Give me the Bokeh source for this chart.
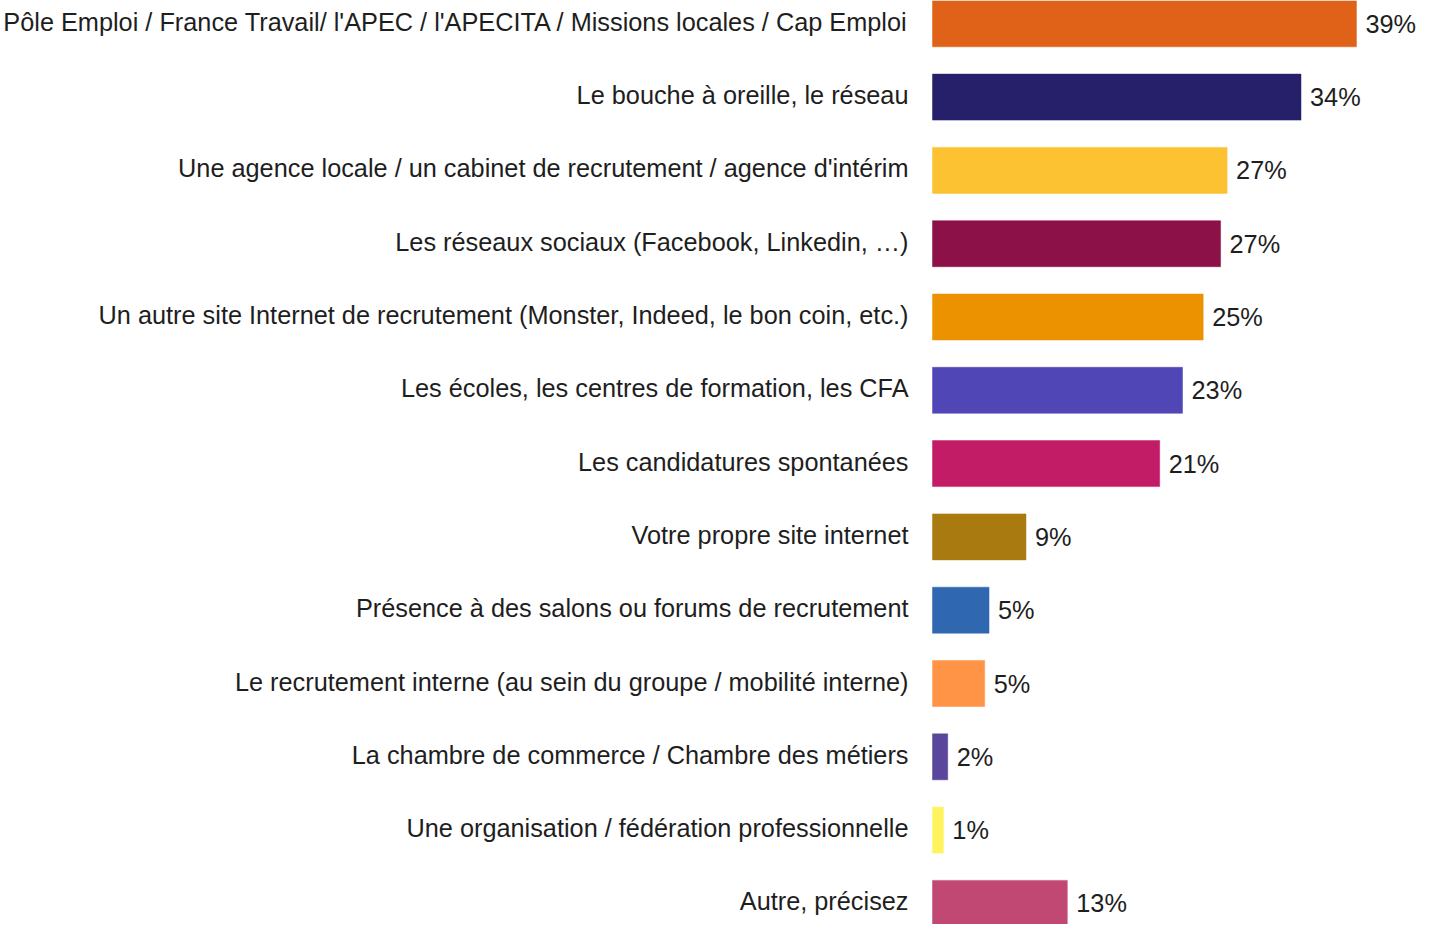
from bokeh.plotting import figure
from bokeh.models import ColumnDataSource, Range1d
from bokeh.core.properties import value
from bokeh.embed import file_html
from bokeh.resources import INLINE

categories = [
    "Pôle Emploi / France Travail/ l'APEC / l'APECITA / Missions locales / Cap Emploi",
    "Le bouche à oreille, le réseau",
    "Une agence locale / un cabinet de recrutement / agence d'intérim",
    "Les réseaux sociaux (Facebook, Linkedin, …)",
    "Un autre site Internet de recrutement (Monster, Indeed, le bon coin, etc.)",
    "Les écoles, les centres de formation, les CFA",
    "Les candidatures spontanées",
    "Votre propre site internet",
    "Présence à des salons ou forums de recrutement",
    "Le recrutement interne (au sein du groupe / mobilité interne)",
    "La chambre de commerce / Chambre des métiers",
    "Une organisation / fédération professionnelle",
    "Autre, précisez",
]
values = [39.0, 33.9, 27.1, 26.5, 24.9, 23.0, 20.9, 8.6, 5.2, 4.8, 1.4, 1.0, 12.4]
value_labels = ["39%", "34%", "27%", "27%", "25%", "23%", "21%", "9%", "5%", "5%", "2%", "1%", "13%"]
colors = ["#DF6218", "#261F6A", "#FDC232", "#8B1148", "#EC9200", "#5146B6", "#C31C67",
          "#A97A0F", "#2F68B1", "#FF9447", "#5A469B", "#FFF45E", "#C04872"]

W, H = 1416, 924
PX_PER_PCT = 10.87
ZERO_PX = 932
ROW_PX = 73.3
TOP = -23.3 / ROW_PX

src = ColumnDataSource(dict(
    y=list(range(len(categories))),
    cat=categories,
    val=values,
    lab=value_labels,
    col=colors,
))

p = figure(width=W, height=H, output_backend="svg", toolbar_location=None,
           x_range=Range1d(-ZERO_PX / PX_PER_PCT, (W - ZERO_PX) / PX_PER_PCT),
           y_range=Range1d(TOP + H / ROW_PX, TOP),
           min_border=0)
p.axis.visible = False
p.grid.visible = False
p.outline_line_color = None
p.background_fill_color = "white"
p.border_fill_color = "white"

p.hbar(y="y", left=0, right="val", height=46 / ROW_PX, fill_color="col", line_color="col",
       line_alpha=0.5, source=src)

p.text(x=0, y="y", text="cat", x_offset=-24, y_offset=-2, text_align="right",
       text_baseline="middle", text_font=value("Liberation Sans"), text_font_size="25.3px",
       text_color="#1e1e1e", source=src)
p.text(x="val", y="y", text="lab", x_offset=9, y_offset=0, text_align="left",
       text_baseline="middle", text_font=value("Liberation Sans"), text_font_size="25.3px",
       text_color="#1e1e1e", source=src)

open("out.html", "w").write(file_html(p, INLINE))
